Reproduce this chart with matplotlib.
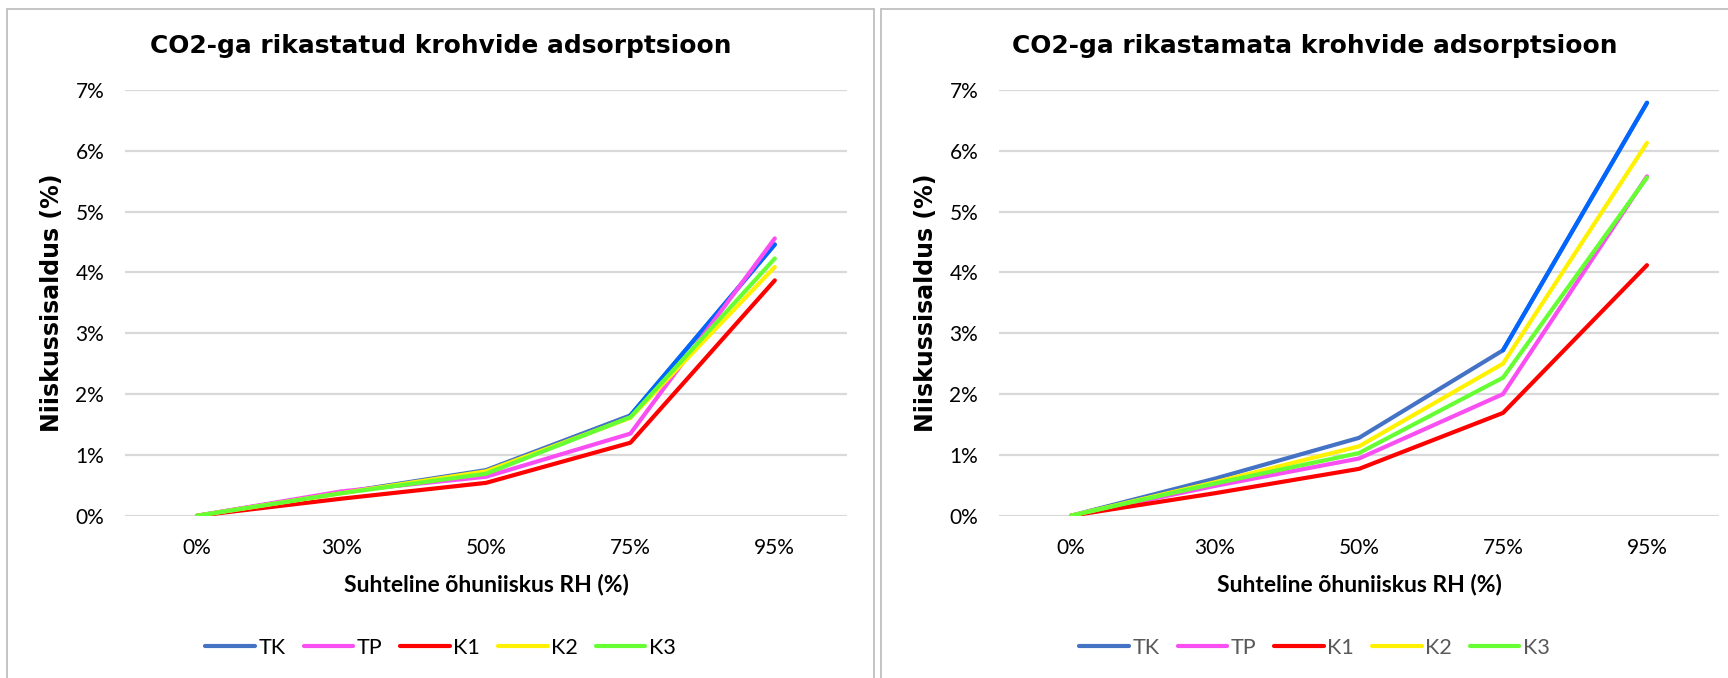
import numpy as np
import matplotlib.pyplot as plt
from matplotlib.patches import Rectangle

rh_labels = ["0%", "30%", "50%", "75%", "95%"]
series_names = ["TK", "TP", "K1", "K2", "K3"]

# moisture content (%) for CO2-enriched plasters
enriched = {
    "TK": [0.0, 0.38, 0.75, 1.65, 4.46],
    "TP": [0.0, 0.40, 0.64, 1.35, 4.56],
    "K1": [0.0, 0.28, 0.54, 1.20, 3.87],
    "K2": [0.0, 0.37, 0.73, 1.61, 4.09],
    "K3": [0.0, 0.37, 0.69, 1.62, 4.23],
}

# moisture content (%) for plasters without CO2 enrichment
plain = {
    "TK": [0.0, 0.61, 1.28, 2.72, 6.79],
    "TP": [0.0, 0.49, 0.94, 2.00, 5.58],
    "K1": [0.0, 0.37, 0.77, 1.69, 4.12],
    "K2": [0.0, 0.55, 1.14, 2.50, 6.13],
    "K3": [0.0, 0.53, 1.03, 2.27, 5.56],
}

colors = {"TK": "#4472C4", "TP": "#F94FF2", "K1": "#FF0000",
          "K2": "#FFF200", "K3": "#66FF33"}
tk_last = "#0066FF"

W, H = 1728, 678
fig = plt.figure(figsize=(W / 100, H / 100), dpi=100)

# chart frames
fig.add_artist(Rectangle((7 / W, -0.1), 867 / W, 1.1 - 9 / H, transform=fig.transFigure,
                         fill=False, edgecolor="#BFBFBF", linewidth=1.3))
fig.add_artist(Rectangle((881 / W, -0.1), 867 / W, 1.1 - 9 / H, transform=fig.transFigure,
                         fill=False, edgecolor="#BFBFBF", linewidth=1.3))

panels = [
    (enriched, "CO2-ga rikastatud krohvide adsorptsioon", 125, 847, 440.5, "black"),
    (plain, "CO2-ga rikastamata krohvide adsorptsioon", 999, 1719, 1314.5, "#595959"),
]

x = np.arange(len(rh_labels))
bottom_px, top_px = 515.7, 90

for data, title, x0, x1, cx, leg_color in panels:
    ax = fig.add_axes([x0 / W, 1 - bottom_px / H, (x1 - x0) / W, (bottom_px - top_px) / H])
    ax.set_xlim(-0.5, 4.5)
    ax.set_ylim(0, 7)
    ax.set_yticks(range(8))
    ax.set_yticklabels([f"{v}%" for v in range(8)])
    ax.set_xticks(x)
    ax.set_xticklabels(rh_labels)
    ax.grid(axis="y", color="#D9D9D9", linewidth=1.6)
    ax.set_axisbelow(True)
    for s in ax.spines.values():
        s.set_visible(False)
    ax.tick_params(length=0, labelsize=15, colors="#000000")
    ax.tick_params(axis="y", pad=15)
    ax.tick_params(axis="x", pad=16)
    for lab in ax.get_xticklabels() + ax.get_yticklabels():
        lab.set_fontfamily("Lato")

    handles = []
    for name in series_names:
        (h,) = ax.plot(x, data[name], color=colors[name], linewidth=3,
                       solid_capstyle="round", solid_joinstyle="round", label=name)
        handles.append(h)
        if name == "TK":
            ax.plot(x[3:], data[name][3:], color=tk_last, linewidth=3,
                    solid_capstyle="round")

    ax.set_xlabel("Suhteline õhuniiskus RH (%)", fontsize=16.5, fontweight="bold",
                  family="Lato", labelpad=11)
    ax.set_ylabel("Niiskussisaldus (%)", fontsize=17, fontweight="bold",
                  family="DejaVu Sans", labelpad=8)

    fig.text(cx / W, 1 - 46 / H, title, ha="center", va="center",
             fontsize=17.9, fontweight="bold", family="DejaVu Sans")

    leg = fig.legend(handles=handles, loc="center", bbox_to_anchor=(cx / W, 1 - 648 / H),
                     ncol=5, frameon=False, handlelength=2.3, handletextpad=0.15,
                     columnspacing=0.85, prop={"family": "Lato", "size": 15.5})
    for t in leg.get_texts():
        t.set_color(leg_color)

fig.savefig("out.png", dpi=100)
